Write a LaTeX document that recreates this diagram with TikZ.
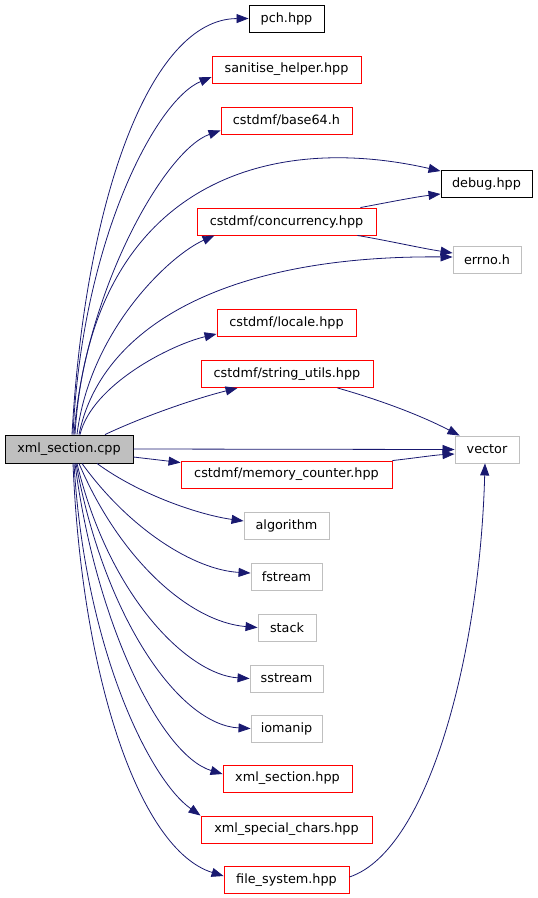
\documentclass[tikz,border=0pt]{standalone}
\usepackage{fontspec}
\setmainfont{DejaVu Sans}
\usetikzlibrary{arrows.meta}
\definecolor{edgeblue}{RGB}{25,25,112}
\definecolor{extgray}{RGB}{191,191,191}
\tikzset{
  box/.style={draw, line width=0.9pt, inner sep=0pt, minimum height=27pt, font=\fontsize{12.8}{14}\selectfont},
  dep/.style={draw=edgeblue, line width=0.8pt, -{Triangle[length=12pt,width=9pt]}}
}
\begin{document}
\begin{tikzpicture}[x=1pt, y=-1pt]
\useasboundingbox (0,0) rectangle (538,898);
\node[box, fill=extgray, minimum width=128pt, minimum height=28pt] (src) at (69,449) {xml\_section.cpp};
\foreach \n/\x/\y/\w/\col/\t in {pch/286.5/18.5/75/black/{pch.hpp}, san/286.5/69.5/149/red/{sanitise\_helper.hpp}, b64/286.5/120.5/131/red/{cstdmf/base64.h}, dbg/486.5/184/91/black/{debug.hpp}, conc/286.5/221.5/179/red/{cstdmf/concurrency.hpp}, err/487/260/68/extgray/{errno.h}, loc/286.5/323/139/red/{cstdmf/locale.hpp}, str/287/374/172/red/{cstdmf/string\_utils.hpp}, vec/487/449.5/64/extgray/{vector}, mem/286.5/474.5/211/red/{cstdmf/memory\_counter.hpp}, alg/286.5/526/85/extgray/{algorithm}, fst/286.5/577/71/extgray/{fstream}, stk/287/627.5/58/extgray/{stack}, sst/286.5/678.5/73/extgray/{sstream}, iom/286.5/728.5/71/extgray/{iomanip}, xsh/287.5/778.5/129/red/{xml\_section.hpp}, spc/286.5/829.5/171/red/{xml\_special\_chars.hpp}, fs/286.5/880/125/red/{file\_system.hpp}} {\node[box, draw=\col, minimum width=\w pt] (\n) at (\x,\y) {\t};}
% upward edges
\draw[dep] ([xshift=3pt]src.north) .. controls (85,200) and (150,19) .. (pch.west);
\draw[dep] ([xshift=4pt]src.north) .. controls (82,240) and (156,100) .. ([yshift=-7.5pt]san.west);
\draw[dep] ([xshift=5pt]src.north) .. controls (85,290) and (165,150) .. ([yshift=4pt]b64.south west);
\draw[dep] ([xshift=6pt]src.north) .. controls (90,190) and (260,130) .. ([yshift=-1pt]dbg.north west);
\draw[dep] ([xshift=8pt]src.north) .. controls (90,330) and (170,255) .. ([xshift=18pt]conc.south west);
\draw[dep] ([xshift=10pt]src.north) .. controls (100,330) and (220,255) .. ([yshift=3pt]err.west);
\draw[dep] ([xshift=11pt]src.north) .. controls (92,385) and (170,345) .. ([yshift=3pt]loc.south west);
\draw[dep] ([xshift=36pt]src.north) .. controls (140,418) and (190,400) .. ([xshift=37pt]str.south west);
\draw[dep] (src.east) -- (vec.west);
\draw[dep] ([yshift=-8pt]src.east) -- ([yshift=-2pt]mem.north west);
% downward edges
\draw[dep] ([xshift=28pt]src.south) .. controls (140,495) and (200,515) .. ([yshift=5pt]alg.west);
\draw[dep] ([xshift=13pt]src.south) .. controls (130,530) and (195,570) .. ([yshift=4pt]fst.west);
\draw[dep] ([xshift=10pt]src.south) .. controls (120,560) and (190,622) .. (stk.west);
\draw[dep] ([xshift=8pt]src.south) .. controls (110,600) and (190,675) .. (sst.west);
\draw[dep] ([xshift=7pt]src.south) .. controls (105,620) and (180,725) .. (iom.west);
\draw[dep] ([xshift=6pt]src.south) .. controls (95,620) and (160,755) .. ([yshift=4.5pt]xsh.west);
\draw[dep] ([xshift=5pt]src.south) .. controls (85,650) and (150,780) .. (spc.north west);
\draw[dep] ([xshift=4pt]src.south) .. controls (82,680) and (140,850) .. ([yshift=4pt]fs.west);
% second level
\draw[dep] ([xshift=-16pt]conc.north east) .. controls (390,202) and (415,197) .. ([yshift=4pt]dbg.south west);
\draw[dep] ([xshift=-19pt]conc.south east) .. controls (390,241) and (420,248) .. ([yshift=7pt]err.west);
\draw[dep] ([xshift=-36pt]str.south east) .. controls (380,400) and (420,415) .. ([xshift=5pt]vec.north west);
\draw[dep] (mem.north east) .. controls (415,458) and (435,455) .. ([yshift=-4.5pt]vec.west);
\draw[dep] ([yshift=3pt]fs.east) .. controls (430,850) and (480,650) .. ([xshift=-2pt]vec.south);
\end{tikzpicture}
\end{document}
